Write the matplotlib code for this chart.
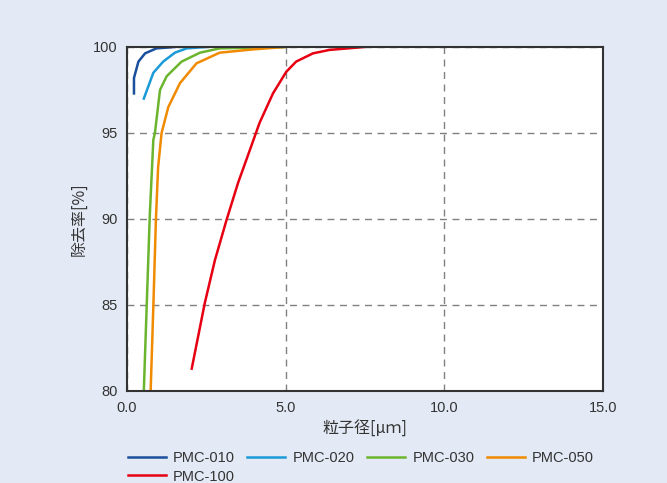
import numpy as np
import matplotlib.pyplot as plt

plt.rcParams['font.family'] = ['Liberation Sans', 'Noto Sans CJK JP', 'DejaVu Sans']

# 粒子径[um] と 除去率[%]
x010 = [0.22, 0.22, 0.36, 0.57, 0.93, 1.51]
y010 = [97.3, 98.2, 99.15, 99.63, 99.92, 100.0]

x020 = [0.53, 0.83, 1.14, 1.51, 1.88, 2.5]
y020 = [97.0, 98.5, 99.15, 99.67, 99.92, 100.0]

x030 = [0.53, 0.62, 0.72, 0.83, 0.88, 1.04, 1.25, 1.72, 2.30, 2.92, 4.97]
y030 = [80.0, 84.9, 90.3, 94.6, 95.0, 97.5, 98.3, 99.15, 99.67, 99.92, 100.0]

x050 = [0.745, 0.83, 0.91, 0.98, 1.09, 1.30, 1.67, 2.19, 2.92, 3.97, 4.97]
y050 = [80.0, 84.9, 89.9, 93.0, 95.0, 96.5, 97.9, 99.05, 99.67, 99.86, 100.0]

x100 = [2.04, 2.45, 2.77, 3.13, 3.5, 3.87, 4.18, 4.6, 5.02, 5.33, 5.86, 6.38, 7.48]
y100 = [81.3, 85.1, 87.6, 89.9, 92.1, 94.0, 95.6, 97.3, 98.56, 99.15, 99.63, 99.83, 100.0]

bg = '#e4eaf5'
fig = plt.figure(figsize=(6.67, 4.83), dpi=100, facecolor=bg)
ax = fig.add_axes([0.1904, 0.1905, 0.7136, 0.7122])

l1, = ax.plot(x010, y010, color='#1a4f9c', lw=1.8, label='PMC-010')
l2, = ax.plot(x020, y020, color='#1b9ad8', lw=1.8, label='PMC-020')
l3, = ax.plot(x030, y030, color='#6bb52e', lw=1.8, label='PMC-030')
l4, = ax.plot(x050, y050, color='#f08a00', lw=1.8, label='PMC-050')
l5, = ax.plot(x100, y100, color='#e60012', lw=1.8, label='PMC-100')

ax.set_xlim(0, 15)
ax.set_ylim(80, 100)
ax.set_xticks([0, 5, 10, 15])
ax.set_xticklabels(['0.0', '5.0', '10.0', '15.0'])
ax.set_yticks([80, 85, 90, 95, 100])
ax.tick_params(length=0, labelsize=10.5, colors='#333333', pad=7)
ax.grid(True, ls=(0, (5, 4)), color='#808080', lw=1)
for s in ax.spines.values():
    s.set_color('#333333')
    s.set_linewidth(1.5)

cjk = ['Noto Sans CJK JP', 'DejaVu Sans']
ax.set_xlabel('粒子径[μｍ]', fontsize=11.5, color='#333333', labelpad=4, family=cjk)
ax.set_ylabel('除去率[%]', fontsize=11.5, color='#333333', labelpad=4, family=cjk)

# 行方向に並べるため順番を入れ替え
hs = [l1, l5, l2, l3, l4]
leg = fig.legend(hs, [h.get_label() for h in hs], loc='upper left',
                 bbox_to_anchor=(0.183, 0.078), ncol=4, frameon=False,
                 fontsize=10.5, handlelength=2.6, columnspacing=0.85, handletextpad=0.5,
                 labelspacing=0.3, borderaxespad=0)
for t in leg.get_texts():
    t.set_color('#333333')

fig.savefig('out.png', dpi=100, facecolor=bg)
